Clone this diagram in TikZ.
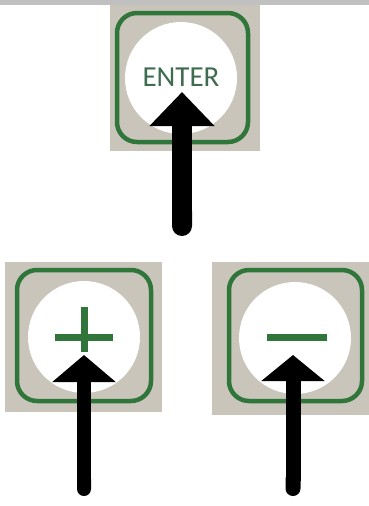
\documentclass[tikz,border=0pt]{standalone}
\usepackage{fontspec}
\setmainfont{Carlito}
\usetikzlibrary{arrows.meta}
\definecolor{keygray}{RGB}{201,197,187}
\definecolor{keygreen}{RGB}{48,118,58}
\definecolor{textgreen}{RGB}{62,108,78}
\definecolor{bandgray}{RGB}{192,192,192}
\tikzset{
  keybg/.style={fill=keygray, draw=none, inner sep=0pt},
  keyrim/.style={draw=keygreen, line width=4.5pt, rounded corners=20pt, inner sep=0pt},
  keyface/.style={circle, fill=white, draw=none, inner sep=0pt, minimum size=112pt},
  sign/.style={draw=keygreen, line width=7pt},
  bigarrow/.style={draw=black, line width=#1, {Round Cap[]}-{Triangle[length=34pt,width=63pt]}},
}
\begin{document}
\begin{tikzpicture}[x=1pt,y=-1pt]
\useasboundingbox (0,0) rectangle (369,506);
\fill[white] (0,0) rectangle (369,506);
\fill[bandgray] (0,0) rectangle (369,5);
% ENTER key
\fill[keygray] (110,5) rectangle (260,151);
\draw[keyrim] (117,13) rectangle (248,142);
\node[keyface] (enterface) at (181,78) {};
\node[text=textgreen, font=\fontsize{29}{29}\selectfont, inner sep=0pt] (enter) at (181,77) {ENTER};
\coordinate (entertip) at (182,92);
\coordinate (enterbase) at (182,236);
\draw[line width=20pt, {Round Cap[]}-{Triangle[length=34pt,width=63pt]}] (enterbase) -- (entertip);
% PLUS key
\fill[keygray] (5,262) rectangle (162,412);
\draw[keyrim] (17,270) rectangle (151,401);
\node[keyface] (plusface) at (84,337) {};
\draw[sign] (55,337) -- (113,337);
\draw[sign] (84,307) -- (84,352);
\coordinate (plustip) at (84,355);
\coordinate (plusbase) at (84,496);
\draw[line width=14pt, {Round Cap[]}-{Triangle[length=27pt,width=62pt]}] (plusbase) -- (plustip);
% MINUS key
\fill[keygray] (212,262) rectangle (369,415);
\draw[keyrim] (229,270) rectangle (362,401);
\node[keyface] (minusface) at (295,338) {};
\draw[sign] (267,337) -- (327,337);
\coordinate (minustip) at (293,355);
\coordinate (minusbase) at (293,496);
\draw[line width=15pt, {Round Cap[]}-{Triangle[length=26pt,width=62pt]}] (minusbase) -- (minustip);
\end{tikzpicture}
\end{document}
